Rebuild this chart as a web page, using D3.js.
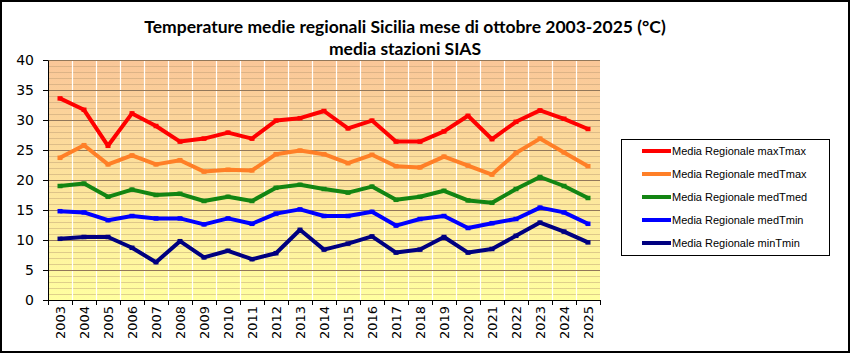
<!DOCTYPE html>
<html>
<head>
<meta charset="utf-8">
<script src="https://cdn.jsdelivr.net/npm/d3@7"></script>
<style>
  body { margin: 0; background: #fff; }
  svg { display: block; }
</style>
</head>
<body>
<script>
// anni e serie (°C)
var anni = ["2003","2004","2005","2006","2007","2008","2009","2010","2011","2012","2013","2014",
            "2015","2016","2017","2018","2019","2020","2021","2022","2023","2024","2025"];
var maxTmax = [33.6,31.7,25.7,31.1,29.0,26.4,26.9,27.9,26.9,29.9,30.3,31.5,28.6,29.9,26.4,26.4,28.1,30.7,26.8,29.7,31.6,30.2,28.5];
var medTmax = [23.7,25.8,22.6,24.1,22.6,23.3,21.4,21.7,21.6,24.3,24.9,24.3,22.8,24.2,22.3,22.1,23.9,22.4,20.9,24.5,26.9,24.6,22.3];
var medTmed = [19.0,19.4,17.2,18.4,17.5,17.7,16.5,17.2,16.5,18.7,19.2,18.5,17.9,18.9,16.7,17.2,18.2,16.6,16.2,18.5,20.5,19.0,17.0];
var medTmin = [14.8,14.6,13.3,14.0,13.6,13.6,12.6,13.6,12.7,14.4,15.1,14.0,14.0,14.7,12.4,13.5,14.0,12.0,12.8,13.5,15.4,14.6,12.7];
var minTmin = [10.2,10.5,10.5,8.7,6.3,9.8,7.1,8.2,6.8,7.8,11.7,8.4,9.4,10.6,7.9,8.4,10.5,7.9,8.5,10.7,12.9,11.4,9.6];
var nomiSerie = ["Media Regionale maxTmax","Media Regionale medTmax","Media Regionale medTmed",
                 "Media Regionale medTmin","Media Regionale minTmin"];
var yTicks = [0,5,10,15,20,25,30,35,40];

var serie = [
  { nome: nomiSerie[0], valori: maxTmax, colore: "#ff0000" },
  { nome: nomiSerie[1], valori: medTmax, colore: "#ff7f27" },
  { nome: nomiSerie[2], valori: medTmed, colore: "#138513" },
  { nome: nomiSerie[3], valori: medTmin, colore: "#0000ff" },
  { nome: nomiSerie[4], valori: minTmin, colore: "#000080" }
];

var W = 850, H = 353;
var svg = d3.select("body").append("svg").attr("width", W).attr("height", H);

// bordo esterno
svg.append("rect").attr("x", 1).attr("y", 1).attr("width", W - 2).attr("height", H - 2)
  .attr("fill", "#fff").attr("stroke", "#000").attr("stroke-width", 2);

var pL = 48, pR = 600, pT = 60, pB = 300;

var x = d3.scaleBand().domain(anni).range([pL, pR]).padding(0);
var y = d3.scaleLinear().domain([0, 40]).range([pB, pT]);

// sfondo sfumato dell'area del grafico
var grad = svg.append("defs").append("linearGradient")
  .attr("id", "sfondo").attr("x1", 0).attr("y1", 0).attr("x2", 0).attr("y2", 1);
grad.append("stop").attr("offset", "0%").attr("stop-color", "#fac698");
grad.append("stop").attr("offset", "100%").attr("stop-color", "#ffffa0");

svg.append("rect").attr("x", pL).attr("y", pT)
  .attr("width", pR - pL).attr("height", pB - pT)
  .attr("fill", "url(#sfondo)");

// griglia orizzontale secondaria (ogni grado)
svg.append("g").selectAll("line")
  .data(d3.range(1, 40).filter(function(d) { return d % 5 !== 0; }))
  .enter().append("line")
  .attr("x1", pL).attr("x2", pR)
  .attr("y1", function(d) { return y(d) + 0.5; })
  .attr("y2", function(d) { return y(d) + 0.5; })
  .attr("stroke", "#b89870").attr("stroke-opacity", 0.45);

// griglia verticale bianca
var bordi = d3.range(1, anni.length).map(function(i) { return pL + i * x.step(); });
svg.append("g").selectAll("line")
  .data(bordi).enter().append("line")
  .attr("x1", function(d) { return Math.round(d) + 0.5; })
  .attr("x2", function(d) { return Math.round(d) + 0.5; })
  .attr("y1", pT).attr("y2", pB)
  .attr("stroke", "#ffffff").attr("stroke-width", 1.2);

// griglia principale (ogni 5 gradi)
svg.append("g").selectAll("line")
  .data(yTicks.filter(function(d) { return d > 0; }))
  .enter().append("line")
  .attr("x1", pL).attr("x2", pR)
  .attr("y1", function(d) { return y(d) + 0.5; })
  .attr("y2", function(d) { return y(d) + 0.5; })
  .attr("stroke", "#93785a");

// assi
var assY = svg.append("g").attr("transform", "translate(" + pL + ",0)")
  .call(d3.axisLeft(y).tickValues(yTicks).tickSize(5).tickSizeOuter(0));
assY.selectAll("text").attr("font-family", "DejaVu Sans").attr("font-size", 14)
  .attr("fill", "#000").attr("x", -14);
assY.selectAll("line, path").attr("stroke", "#000");

var assX = svg.append("g").attr("transform", "translate(0," + pB + ")")
  .call(d3.axisBottom(x).tickSize(0).tickSizeOuter(0));
assX.select("path").attr("stroke", "#000");
assX.selectAll("text")
  .attr("font-family", "DejaVu Sans").attr("font-size", 13).attr("fill", "#000")
  .attr("text-anchor", "end")
  .attr("transform", "rotate(-90)")
  .attr("x", -6).attr("y", 0).attr("dy", "0.35em");

// tacche asse x sui bordi delle categorie
svg.append("g").selectAll("line")
  .data(d3.range(0, anni.length + 1).map(function(i) { return pL + i * x.step(); }))
  .enter().append("line")
  .attr("x1", function(d) { return Math.round(d) + 0.5; })
  .attr("x2", function(d) { return Math.round(d) + 0.5; })
  .attr("y1", pB).attr("y2", pB + 5)
  .attr("stroke", "#000");

// linee delle serie
var linea = d3.line()
  .x(function(d, i) { return x(anni[i]) + x.bandwidth() / 2; })
  .y(function(d) { return y(d); });

serie.forEach(function(s) {
  svg.append("path")
    .datum(s.valori)
    .attr("d", linea)
    .attr("fill", "none")
    .attr("stroke", s.colore)
    .attr("stroke-width", 4)
    .attr("stroke-linejoin", "round");
  // marcatori piccoli
  svg.append("g").selectAll("line")
    .data(s.valori).enter().append("line")
    .attr("x1", function(d, i) { return x(anni[i]) + x.bandwidth() / 2 - 2.5; })
    .attr("x2", function(d, i) { return x(anni[i]) + x.bandwidth() / 2 + 2.5; })
    .attr("y1", function(d) { return y(d); })
    .attr("y2", function(d) { return y(d); })
    .attr("stroke", s.colore).attr("stroke-width", 4.5);
});

// titolo
var titolo = svg.append("text").attr("text-anchor", "middle")
  .attr("font-family", "Lato").attr("font-weight", "bold").attr("font-size", 17.5).attr("fill", "#000");
titolo.append("tspan").attr("x", 405).attr("y", 33)
  .text("Temperature medie regionali Sicilia mese di ottobre 2003-2025 (°C)");
titolo.append("tspan").attr("x", 405).attr("y", 55).text("media stazioni SIAS");

// legenda
var leg = svg.append("g");
leg.append("rect").attr("x", 621.5).attr("y", 139.5).attr("width", 208).attr("height", 116)
  .attr("fill", "#fff").attr("stroke", "#000");
var voci = leg.selectAll("g.voce").data(serie).enter().append("g")
  .attr("transform", function(d, i) { return "translate(0," + (151 + i * 23) + ")"; });
voci.append("line").attr("x1", 642).attr("x2", 671).attr("y1", 0).attr("y2", 0)
  .attr("stroke", function(d) { return d.colore; }).attr("stroke-width", 4);
voci.append("text").attr("x", 672).attr("y", 0).attr("dy", "0.35em")
  .attr("font-family", "Liberation Sans").attr("font-size", 11).attr("fill", "#000")
  .text(function(d) { return d.nome; });
</script>
</body>
</html>
